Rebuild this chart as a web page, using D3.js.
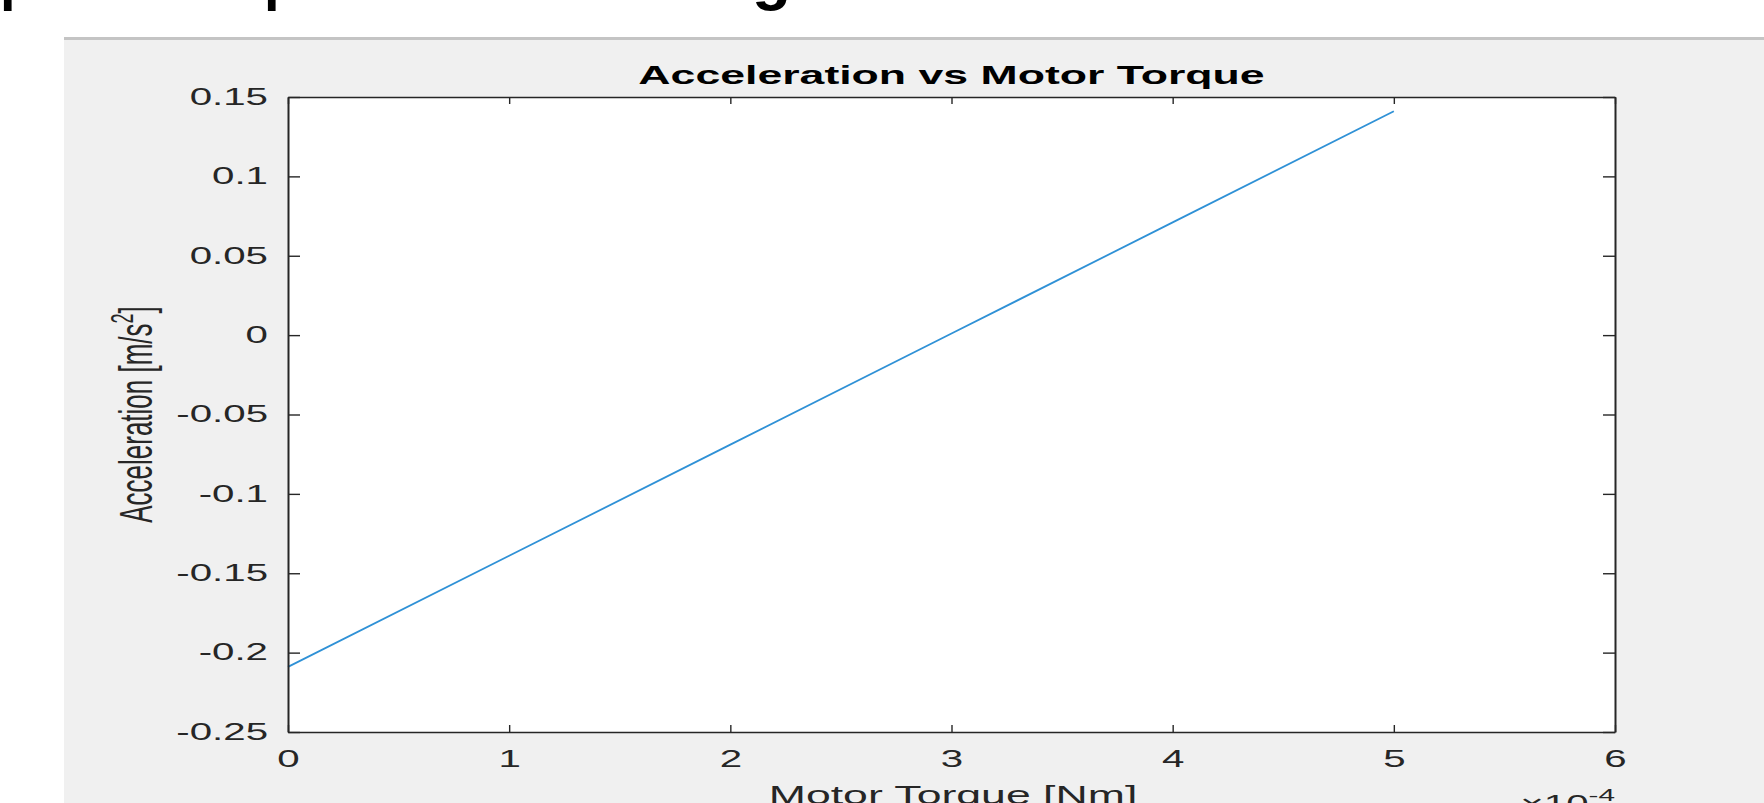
<!DOCTYPE html>
<html>
<head>
<meta charset="utf-8">
<script src="https://cdn.jsdelivr.net/npm/d3@7"></script>
<style>
  html, body { margin: 0; padding: 0; background: #ffffff; overflow: hidden; }
  svg { display: block; }
  text { font-family: "Liberation Sans", Arial, Helvetica, sans-serif; }
</style>
</head>
<body>
<svg id="chart" width="1764" height="803"></svg>
<script>
// ---- data ----
const torque = [0, 1, 2, 3, 4, 5];                               // Motor torque, x 10^-4 Nm
const accel  = [-0.209, -0.139, -0.069, 0.001, 0.071, 0.141];     // Acceleration, m/s^2
const xTicks = [0, 1, 2, 3, 4, 5, 6];
const xTickLabels = ["0", "1", "2", "3", "4", "5", "6"];
const yTicks = [-0.25, -0.2, -0.15, -0.1, -0.05, 0, 0.05, 0.1, 0.15];
const yTickLabels = ["-0.25", "-0.2", "-0.15", "-0.1", "-0.05", "0", "0.05", "0.1", "0.15"];
const titleText = "Acceleration vs Motor Torque";
const xLabelText = "Motor Torque [Nm]";
const yLabelMain = "Acceleration [m/s";
const exponentBase = "\u00d710";
const exponentPow = "-4";
const headerFragments = ["p", "p", "g"];

// ---- layout ----
const W = 1764, H = 803;
const L = 288, R = 1615, T = 97, B = 732;
const SX = 1.75;             // horizontal stretch of the reference image
const axisColor = "#262626";

const svg = d3.select("#chart");

// page background pieces
svg.append("rect").attr("x", 0).attr("y", 0).attr("width", W).attr("height", H).attr("fill", "#ffffff");
svg.append("rect").attr("x", 64).attr("y", 37).attr("width", W - 64).attr("height", 3).attr("fill", "#c4c4c4");
svg.append("rect").attr("x", 64).attr("y", 40).attr("width", W - 64).attr("height", H - 40).attr("fill", "#f0f0f0");

// cut-off document text above the figure (only descenders visible)
const fragX = [0, 264, 752];
const fragSize = [56, 56, 64];
const fragY = [-1, -1, -2];
svg.append("g").selectAll("text").data(headerFragments).join("text")
  .attr("x", (d, i) => fragX[i]).attr("y", (d, i) => fragY[i])
  .attr("font-size", (d, i) => fragSize[i]).attr("font-weight", "bold").attr("fill", "#000")
  .text(d => d);

const x = d3.scaleLinear().domain([0, 6]).range([L, R]);
const y = d3.scaleLinear().domain([-0.25, 0.15]).range([B, T]);

// plot area
svg.append("rect").attr("x", L).attr("y", T).attr("width", R - L).attr("height", B - T).attr("fill", "#ffffff");

// line
const line = d3.line().x((d, i) => x(torque[i])).y(d => y(d));
svg.append("path").datum(accel)
  .attr("d", line).attr("fill", "none")
  .attr("stroke", "#2f91d6").attr("stroke-width", 1.8);

// axes
function styleAxis(g, width) {
  g.selectAll(".domain").attr("stroke", axisColor).attr("stroke-width", width);
  g.selectAll(".tick line").attr("stroke", axisColor).attr("stroke-width", 1.4);
}

const gB = svg.append("g").attr("transform", `translate(0,${B})`)
  .call(d3.axisBottom(x).tickValues(xTicks).tickFormat((d, i) => xTickLabels[i])
    .tickSizeInner(-7).tickSizeOuter(0).tickPadding(19));
styleAxis(gB, 1.5);
gB.selectAll(".tick text")
  .attr("font-size", 23).attr("fill", axisColor)
  .attr("font-family", "'Liberation Sans', Arial, sans-serif")
  .attr("transform", `scale(${SX},1)`);

const gT = svg.append("g").attr("transform", `translate(0,${T})`)
  .call(d3.axisTop(x).tickValues(xTicks).tickFormat("").tickSizeInner(-7).tickSizeOuter(0));
styleAxis(gT, 1.5);

const gL = svg.append("g").attr("transform", `translate(${L},0)`)
  .call(d3.axisLeft(y).tickValues(yTicks).tickFormat((d, i) => yTickLabels[i])
    .tickSizeInner(-12).tickSizeOuter(0).tickPadding(20));
styleAxis(gL, 2);
gL.selectAll(".tick text")
  .attr("font-size", 23).attr("fill", axisColor)
  .attr("font-family", "'Liberation Sans', Arial, sans-serif")
  .attr("x", -20 / SX)
  .attr("transform", `scale(${SX},1)`);

const gR = svg.append("g").attr("transform", `translate(${R},0)`)
  .call(d3.axisRight(y).tickValues(yTicks).tickFormat("").tickSizeInner(-12).tickSizeOuter(0));
styleAxis(gR, 2);

// title
svg.append("text")
  .attr("transform", `translate(${(L + R) / 2},84) scale(${SX},1)`)
  .attr("text-anchor", "middle").attr("font-size", 25.5).attr("font-weight", "bold")
  .attr("fill", "#000").text(titleText);

// y label
const yl = svg.append("text")
  .attr("transform", `translate(152,${(T + B) / 2}) scale(${SX},1) rotate(-90)`)
  .attr("text-anchor", "middle").attr("font-size", 26).attr("fill", axisColor);
yl.append("tspan").text(yLabelMain);
yl.append("tspan").attr("font-size", 18).attr("dy", -11).text("2");
yl.append("tspan").attr("dy", 11).text("]");

// x label
svg.append("text")
  .attr("transform", `translate(953,804) scale(${SX},1)`)
  .attr("text-anchor", "middle").attr("font-size", 25.5).attr("fill", axisColor)
  .text(xLabelText);

// exponent
const ex = svg.append("text")
  .attr("transform", `translate(${R},812) scale(${SX},1)`)
  .attr("text-anchor", "end").attr("font-size", 23).attr("fill", axisColor);
ex.append("tspan").text(exponentBase);
ex.append("tspan").attr("font-size", 17).attr("dy", -11).text(exponentPow);
</script>
</body>
</html>
